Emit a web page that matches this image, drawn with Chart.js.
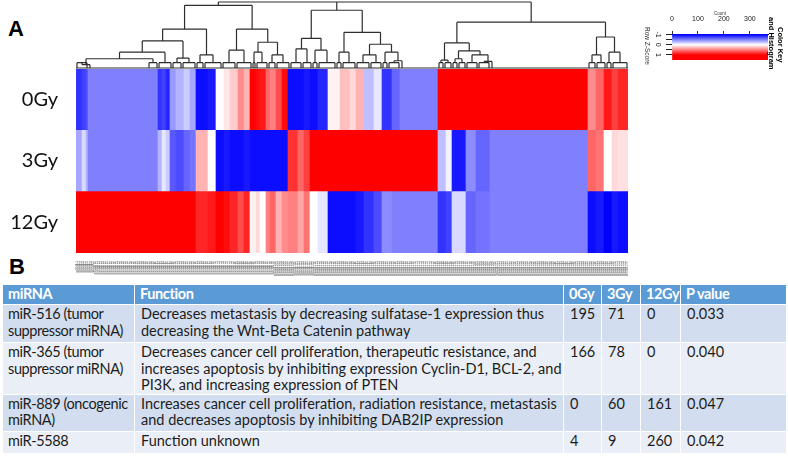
<!DOCTYPE html>
<html>
<head>
<meta charset="utf-8">
<script src="https://cdn.jsdelivr.net/npm/chart.js@4.4.1/dist/chart.umd.min.js"></script>
<style>
  body { margin: 0; width: 788px; height: 475px; overflow: hidden; position: relative; background: #fff; font-family: Lato, sans-serif; }
  canvas, .abs { position: absolute; }
  .panel { font-family: "Liberation Sans", Arial, sans-serif; font-weight: bold; font-size: 22px; line-height: 22px; }
  .vert { writing-mode: vertical-rl; font-family: "Liberation Sans", Arial, sans-serif; white-space: nowrap; }
  #tbl { position: absolute; left: 2px; top: 284px; width: 784px; border-collapse: collapse; table-layout: fixed; font-size: 14.5px; color: #1c1c1c; }
  #tbl td, #tbl th { border: 1px solid #fff; padding: 1px 2px 0 6px; vertical-align: top; text-align: left; line-height: 16.5px; white-space: pre; overflow: hidden; }
  #tbl td:first-child { letter-spacing: -0.4px; padding-left: 5px; }
  #tbl th { background: #5b9bd5; color: #fff; font-weight: bold; letter-spacing: -0.4px; padding-left: 5px; }
  #tbl tr.odd td { background: #d2deef; }
  #tbl tr.even td { background: #eaeff7; }
</style>
</head>
<body>
<div class="abs panel" style="left:8px;top:18px">A</div>
<div class="abs panel" style="left:9px;top:256px">B</div>

<canvas id="dendro" width="564" height="70" style="left:70px;top:0"></canvas>
<canvas id="heat" width="640" height="210" style="left:0;top:69px"></canvas>
<canvas id="key" width="148" height="75" style="left:640px;top:0"></canvas>
<div class="abs vert" style="left:644px;top:27px;font-size:6.5px;color:#333">Row Z-Score</div>
<div class="abs" style="left:760px;top:0;width:28px;height:70px;overflow:hidden">
  <div class="abs vert" style="left:16px;top:27px;font-size:7.5px;font-weight:bold">Color Key</div>
  <div class="abs vert" style="left:7px;top:17px;font-size:7.5px;font-weight:bold">and Histogram</div>
</div>

<table id="tbl">
  <colgroup><col style="width:132px"><col style="width:429px"><col style="width:38px"><col style="width:39px"><col style="width:40px"><col style="width:106px"></colgroup>
  <tbody id="tbody"></tbody>
</table>

<script>
// heatmap rows (radiation dose) and blocks of adjacent miRNAs with the same row z-score
const rowNames = ['0Gy', '3Gy', '12Gy'];
const blockSize = [3, 2, 1, 35, 2, 2, 2, 3, 4, 3, 3, 6, 4, 4, 3, 4, 3, 3, 3, 2, 3, 2, 3, 3, 3, 5, 3, 3, 4, 5,
  6, 5, 3, 4, 5, 4, 5, 4, 19, 4, 3, 7, 5, 7, 49, 4, 4, 4, 3, 5];
const z0Gy = [-0.8, -0.75, -0.7, -0.5, -0.8, -0.75, -0.85, -0.4, -0.3, -0.2, -0.35, -0.95, -0.9, 0, 0.1, 0.2, 0.45, 0.3, 1, 0.95,
  0.9, 0.6, 0.5, 0.7, 0.95, -0.95, -0.95, -0.9, -0.95, -0.85, 0.05, 0.25, 0.15, 0.3, -0.25, -0.1, -0.8, -0.6, -0.5, 1,
  1, 1, 1, 1, 1, 0.45, 0.6, 0.9, 0.75, 0.85];
const z3Gy = [-0.35, -0.15, -0.3, -0.5, -0.3, -0.1, -0.2, -0.65, -0.7, -0.6, -0.55, 0.3, 0, -0.95, -0.9, -0.95, -0.95, -0.9, -0.95, -0.95,
  -0.95, -0.95, -0.95, -0.95, -0.95, 0.8, 0.6, 0.75, 1, 1, 1, 1, 1, 1, 1, 1, 1, 1, 1, -0.25,
  -0.05, -0.9, -0.45, -0.6, -0.5, 0.6, 0.55, 0, 0.15, 0.12];
const z12Gy = [1, 1, 1, 1, 1, 1, 1, 1, 1, 1, 1, 0.85, 0.9, 1, 0.95, 0.85, 0.7, 0.85, 0.05, 0.15,
  0, 0.5, 0.6, 0.3, 0.45, 0.5, 0.35, 0.55, 0, -0.1, -0.95, -0.95, -0.95, -0.9, -0.8, -0.7, -0.45, -0.5, -0.5, -0.8,
  -0.75, -0.15, -0.6, -0.55, -0.5, -0.95, -0.9, -1, -0.9, -0.95];

// column dendrogram: n(height, ...children), leaves = number of miRNAs, flat = zero-height run
const n = (h, ...c) => ({ h, c });
const flat = k => ({ flat: k });
const tree = n(10,
  n(9.5,
    n(5.9,
      n(4.1, n(2.4, n(1.4, n(0.5, 6, flat(30)), 5), 7), n(1.5, 5, 7)),
      n(2.0, 4, 9)),
    n(5.9,
      n(2.7, 7, 8),
      n(3.9, n(2.4, 2, 6), n(2.0, 4, 7)))),
  n(8.75,
    n(4.5, n(2.9, 6, 5), n(2.7, 3, 9)),
    n(5.4,
      n(2.4, 3, 7),
      n(3.6, n(2.0, 7, 6), n(2.4, 3, n(1.1, 6, flat(19)))))),
  n(6.94,
    n(3.8,
      n(1.2, 3, 4),
      n(2.6, n(1.4, 3, 4), n(2.0, 6, n(1.0, 6, flat(49))))),
    n(4.7, n(2.0, 4, 5), n(2.4, 3, 8))));

// colour key
const keyCountTicks = [0, 100, 200, 300];
const keyTicks = [-1, -0.5, 0, 0.5, 1];
const keyTickLabels = [-1, 0, 1];
const histZ = [-1.05, -1.0, -0.5, 0, 0.5, 1.0, 1.3, 1.5];
const histCount = [3, 7, 5, 4, 5, 7, 10, 14];

// table B
const mirna = ['miR-516 (tumor\nsuppressor miRNA)', 'miR-365 (tumor\nsuppressor miRNA)', 'miR-889 (oncogenic\nmiRNA)', 'miR-5588'];
const functions = [
  'Decreases metastasis by decreasing sulfatase-1 expression thus\ndecreasing the Wnt-Beta Catenin pathway',
  'Decreases cancer cell proliferation, therapeutic resistance, and\nincreases apoptosis by inhibiting expression Cyclin-D1, BCL-2, and\nPI3K, and increasing expression of PTEN',
  'Increases cancer cell proliferation, radiation resistance, metastasis\nand decreases apoptosis by inhibiting DAB2IP expression',
  'Function unknown'
];
const count0Gy = [195, 166, 0, 4];
const count3Gy = [71, 78, 60, 9];
const count12Gy = [0, 0, 161, 260];
const pValue = [0.033, 0.040, 0.047, 0.042];

function zColor(z) {
  const t = Math.max(-1, Math.min(1, z));
  if (t < 0) {
    const v = Math.round(255 * (1 + t));
    return `rgb(${v},${v},255)`;
  }
  const v = Math.round(255 * (1 - t));
  return `rgb(255,${v},${v})`;
}

function expand(zs) {
  const out = [];
  blockSize.forEach((k, i) => { for (let j = 0; j < k; j++) out.push(zs[i]); });
  return out;
}

// fixed axis sizes, without the extra padding Chart.js keeps for tick labels
function fixAxis(size) {
  return s => {
    if (s.isHorizontal()) s.height = size; else s.width = size;
    s.paddingTop = s.paddingBottom = s.paddingLeft = s.paddingRight = 0;
  };
}

const nCols = blockSize.reduce((a, b) => a + b, 0);
const colLabels = Array.from({ length: nCols }, (_, i) => 'miRNA ' + (i + 1));
const rowZ = { '0Gy': z0Gy, '3Gy': z3Gy, '12Gy': z12Gy };

// ---- heatmap
new Chart(document.getElementById('heat'), {
  type: 'bar',
  data: {
    labels: colLabels,
    datasets: [...rowNames].reverse().map(r => ({
      label: r,
      data: colLabels.map(() => 1),
      backgroundColor: expand(rowZ[r]).map(zColor),
      borderWidth: 0,
      barPercentage: 1,
      categoryPercentage: 1
    }))
  },
  options: {
    responsive: false,
    animation: false,
    layout: { padding: { right: 12 } },
    plugins: { legend: { display: false }, tooltip: { enabled: false } },
    scales: {
      x: {
        stacked: true,
        grid: { display: false, drawTicks: false },
        border: { display: false },
        ticks: { autoSkip: false, minRotation: 90, maxRotation: 90, padding: 8, color: '#6f6f6f', font: { size: 3, family: 'Liberation Sans' } },
        afterFit: fixAxis(26)
      },
      y: {
        stacked: true,
        min: 0,
        max: 3,
        grid: { display: false, drawTicks: false },
        border: { display: false },
        afterBuildTicks: s => { s.ticks = [0.5, 1.5, 2.5].map(value => ({ value })); },
        ticks: { padding: 18, color: '#111', font: { size: 20, family: 'Lato' }, callback: v => rowNames[2.5 - v] },
        afterFit: fixAxis(76)
      }
    }
  }
});

// ---- dendrogram
const tuftH = 0.8;
const segs = [];
let col = 0;
function place(node) {
  if (typeof node === 'number') {
    const a = col, b = col + node;
    col = b;
    segs.push([[a + 0.5, 0], [a + 0.5, tuftH]], [[b - 0.5, 0], [b - 0.5, tuftH]], [[a + 0.5, tuftH], [b - 0.5, tuftH]]);
    return { x: (a + b) / 2, h: tuftH };
  }
  if (node.flat) {
    const a = col;
    col += node.flat;
    return { x: a + 1, h: 0 };
  }
  const kids = node.c.map(place);
  const xs = kids.map(k => k.x);
  const lo = Math.min(...xs), hi = Math.max(...xs);
  segs.push([[lo, node.h], [hi, node.h]]);
  kids.forEach(k => segs.push([[k.x, k.h], [k.x, node.h]]));
  return { x: (lo + hi) / 2, h: node.h };
}
place(tree);
segs.push([[0, 0], [nCols, 0]]);
const dendroPts = [];
segs.forEach(([p, q]) => {
  dendroPts.push({ x: p[0], y: p[1] }, { x: q[0], y: q[1] }, { x: null, y: null });
});

new Chart(document.getElementById('dendro'), {
  type: 'scatter',
  data: {
    datasets: [{
      data: dendroPts,
      showLine: true,
      spanGaps: false,
      borderColor: '#2e2e2e',
      borderWidth: 1.2,
      pointRadius: 0,
      clip: false
    }]
  },
  options: {
    responsive: false,
    animation: false,
    layout: { padding: { left: 6, right: 6, top: 2, bottom: 2 } },
    plugins: { legend: { display: false }, tooltip: { enabled: false } },
    scales: {
      x: { type: 'linear', min: 0, max: nCols, display: false },
      y: { min: 0, max: 10, display: false }
    }
  }
});

// ---- colour key
const keyLabelPlugin = {
  id: 'keyLabels',
  afterDraw(chart) {
    const ys = chart.scales.y;
    const c = chart.ctx;
    c.save();
    c.font = '7px "Liberation Sans"';
    c.fillStyle = '#222';
    c.textAlign = 'center';
    c.textBaseline = 'middle';
    keyTickLabels.forEach(v => {
      c.save();
      c.translate(ys.left + 18, ys.getPixelForValue(v));
      c.rotate(Math.PI / 2);
      c.fillText(String(v), 0, 0);
      c.restore();
    });
    c.restore();
  }
};

new Chart(document.getElementById('key'), {
  type: 'bar',
  data: {
    labels: ['key'],
    datasets: [{
      data: [[0, 370]],
      indexAxis: 'y',
      xAxisID: 'x',
      yAxisID: 'yk',
      barPercentage: 1,
      categoryPercentage: 1,
      borderWidth: 0,
      backgroundColor: ctx => {
        const ch = ctx.chart;
        if (!ch.chartArea) return '#fff';
        const ys = ch.scales.y;
        const g = ch.ctx.createLinearGradient(0, ys.getPixelForValue(-1), 0, ys.getPixelForValue(1));
        g.addColorStop(0, zColor(-1));
        g.addColorStop(0.5, zColor(0));
        g.addColorStop(1, zColor(1));
        return g;
      }
    }, {
      type: 'line',
      data: histZ.map((z, i) => ({ x: histCount[i], y: z })),
      xAxisID: 'x',
      yAxisID: 'y',
      borderColor: '#10c8c8',
      borderWidth: 1.5,
      pointRadius: 0
    }]
  },
  options: {
    responsive: false,
    animation: false,
    layout: { padding: { right: 20, bottom: 15 } },
    plugins: { legend: { display: false }, tooltip: { enabled: false } },
    scales: {
      x: {
        type: 'linear', position: 'top', min: 0, max: 370, offset: false,
        grid: { drawOnChartArea: false, tickLength: 3, color: '#333', offset: false },
        border: { color: '#1a1a60' },
        afterBuildTicks: s => { s.ticks = keyCountTicks.map(value => ({ value })); },
        ticks: { padding: 8, color: '#222', font: { size: 7, family: 'Liberation Sans' } },
        title: { display: true, text: 'Count', font: { size: 4.5, family: 'Liberation Sans' }, color: '#333', padding: { top: 11, bottom: 0 } },
        afterFit: fixAxis(34)
      },
      y: {
        type: 'linear', position: 'left', reverse: true, min: -1.05, max: 1.5, offset: false,
        grid: { drawOnChartArea: false, tickLength: 6, color: '#222' },
        border: { display: false },
        afterBuildTicks: s => { s.ticks = keyTicks.map(value => ({ value })); },
        ticks: { display: false },
        afterFit: fixAxis(32)
      },
      yk: { type: 'category', display: false, offset: true }
    }
  },
  plugins: [keyLabelPlugin]
});

// ---- table
const tbody = document.getElementById('tbody');
tbody.innerHTML = `<tr style="height:20px"><th>miRNA</th><th>Function</th><th>0Gy</th><th>3Gy</th><th>12Gy</th><th>P value</th></tr>`;
const rowHeights = [38, 51, 37, 22];
for (let i = 0; i < mirna.length; i++) {
  tbody.innerHTML += `
    <tr class="${i % 2 === 0 ? 'odd' : 'even'}" style="height:${rowHeights[i]}px">
      <td>${mirna[i]}</td>
      <td>${functions[i]}</td>
      <td>${count0Gy[i]}</td>
      <td>${count3Gy[i]}</td>
      <td>${count12Gy[i]}</td>
      <td>${pValue[i].toFixed(3)}</td>
    </tr>`;
}
</script>
</body>
</html>
